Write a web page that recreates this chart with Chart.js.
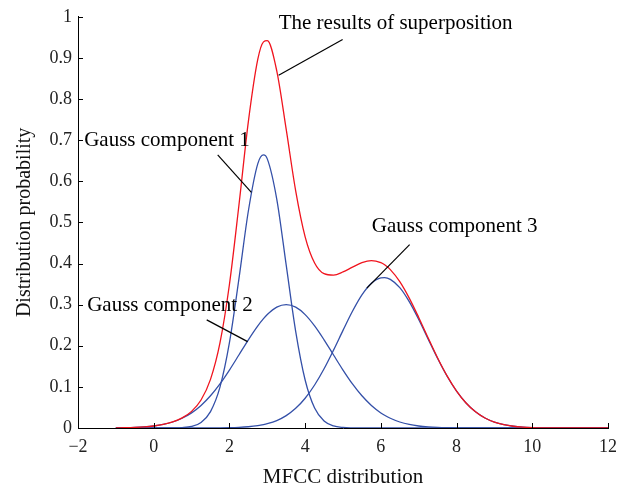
<!DOCTYPE html>
<html>
<head>
<meta charset="utf-8">
<script src="https://cdn.jsdelivr.net/npm/chart.js@4"></script>
<style>
  html, body { margin: 0; padding: 0; background: #fff; }
  #wrap { width: 634px; height: 491px; }
</style>
</head>
<body>
<div id="wrap"><canvas id="chart" width="634" height="491"></canvas></div>
<script>
// MFCC axis sample positions
const xs = [-1, -0.75, -0.5, -0.25, 0, 0.25, 0.5, 0.75, 1, 1.25, 1.5, 1.75, 2, 2.25, 2.5, 2.75, 2.9,
  3, 3.25, 3.5, 3.75, 4, 4.25, 4.5, 4.75, 5, 5.25, 5.5, 5.75, 6, 6.1, 6.25, 6.5, 6.75,
  7, 7.25, 7.5, 7.75, 8, 8.25, 8.5, 8.75, 9, 9.25, 9.5, 9.75, 10, 10.25, 10.5, 10.75,
  11, 11.25, 11.5, 11.75, 12];

// superposition (red)
const superposition = [0.0003, 0.0007, 0.0014, 0.0027, 0.0049, 0.0086, 0.0148, 0.0246,
  0.0404, 0.0681, 0.1182, 0.2068, 0.3490, 0.5410, 0.7451, 0.8969, 0.9390,
  0.9420, 0.8687, 0.7261, 0.5768, 0.4650, 0.4013, 0.3753, 0.3718, 0.3795, 0.3912, 0.4020, 0.4069,
  0.4020, 0.3969, 0.3852, 0.3559, 0.3159, 0.2688, 0.2189, 0.1703, 0.1266,
  0.0898, 0.0608, 0.0393, 0.0242, 0.0142, 0.0080, 0.0043, 0.0022,
  0.0011, 0.0005, 0.0002, 0.0001, 0, 0, 0, 0, 0];

// gauss components (blue)
const gauss1 = [0, 0, 0, 0, 0, 0, 0.0002, 0.0009,
  0.0037, 0.0133, 0.0398, 0.0993, 0.2074, 0.3620, 0.5277, 0.6429, 0.6640,
  0.6545, 0.5568, 0.3960, 0.2352, 0.1168, 0.0484, 0.0168, 0.0049, 0.0012, 0.0002, 0, 0,
  0, 0, 0, 0, 0, 0, 0, 0, 0,
  0, 0, 0, 0, 0, 0, 0, 0,
  0, 0, 0, 0, 0, 0, 0, 0, 0];

const gauss2 = [0.0003, 0.0007, 0.0014, 0.0027, 0.0049, 0.0086, 0.0146, 0.0237,
  0.0367, 0.0548, 0.0783, 0.1072, 0.1409, 0.1775, 0.2144, 0.2483, 0.2658,
  0.2758, 0.2938, 0.3000, 0.2938, 0.2758, 0.2483, 0.2144, 0.1775, 0.1409, 0.1072, 0.0783, 0.0548,
  0.0367, 0.0310, 0.0237, 0.0146, 0.0086, 0.0049, 0.0027, 0.0014, 0.0007,
  0.0003, 0.0001, 0, 0, 0, 0, 0, 0,
  0, 0, 0, 0, 0, 0, 0, 0, 0];

const gauss3 = [0, 0, 0, 0, 0, 0, 0, 0,
  0, 0, 0.0001, 0.0003, 0.0007, 0.0015, 0.0030, 0.0057, 0.0082,
  0.0104, 0.0181, 0.0301, 0.0478, 0.0724, 0.1046, 0.1441, 0.1894, 0.2374, 0.2838, 0.3237, 0.3521,
  0.3653, 0.3659, 0.3615, 0.3413, 0.3073, 0.2639, 0.2162, 0.1689, 0.1259,
  0.0895, 0.0607, 0.0393, 0.0242, 0.0142, 0.0080, 0.0043, 0.0022,
  0.0011, 0.0005, 0.0002, 0.0001, 0, 0, 0, 0, 0];

const xTicks = [-2, 0, 2, 4, 6, 8, 10, 12];

// callout labels in data coordinates
const callouts = [
  { text: 'The results of superposition', tx: 6.39, ty: 0.983, from: [4.99, 0.945], to: [3.30, 0.858] },
  { text: 'Gauss component 1', tx: 0.35, ty: 0.698, from: [1.69, 0.664], to: [2.58, 0.573] },
  { text: 'Gauss component 2', tx: 0.43, ty: 0.299, from: [1.40, 0.263], to: [2.48, 0.210] },
  { text: 'Gauss component 3', tx: 7.95, ty: 0.489, from: [6.76, 0.446], to: [5.63, 0.340] }
];

const RED = '#f0141e';
const BLUE = '#3450a8';
const SERIF = '"Liberation Serif", "DejaVu Serif", serif';

const toPoints = (ys) => xs.map((x, i) => ({ x: x, y: ys[i] }));

const line = (label, ys, color) => ({
  label: label,
  data: toPoints(ys),
  borderColor: color,
  borderWidth: 1.3,
  pointRadius: 0,
  fill: false,
  cubicInterpolationMode: 'monotone'
});

// inward tick marks, drawn from the scale's own ticks
const inwardTicks = {
  id: 'inwardTicks',
  afterDraw(chart) {
    const { ctx, chartArea, scales } = chart;
    ctx.save();
    ctx.strokeStyle = '#000';
    ctx.lineWidth = 1;
    ctx.beginPath();
    scales.x.ticks.forEach((t) => {
      const px = Math.round(scales.x.getPixelForValue(t.value)) + 0.5;
      ctx.moveTo(px, chartArea.bottom);
      ctx.lineTo(px, chartArea.bottom - 5);
    });
    scales.y.ticks.forEach((t) => {
      const py = Math.round(scales.y.getPixelForValue(t.value)) + 0.5;
      ctx.moveTo(chartArea.left, py);
      ctx.lineTo(chartArea.left + 5, py);
    });
    ctx.stroke();
    ctx.restore();
  }
};

// text labels with leader lines
const calloutPlugin = {
  id: 'callouts',
  afterDatasetsDraw(chart) {
    const { ctx, scales } = chart;
    ctx.save();
    ctx.strokeStyle = '#000';
    ctx.lineWidth = 1.2;
    ctx.fillStyle = '#000';
    ctx.font = '21px ' + SERIF;
    ctx.textAlign = 'center';
    ctx.textBaseline = 'middle';
    callouts.forEach((c) => {
      ctx.beginPath();
      ctx.moveTo(scales.x.getPixelForValue(c.from[0]), scales.y.getPixelForValue(c.from[1]));
      ctx.lineTo(scales.x.getPixelForValue(c.to[0]), scales.y.getPixelForValue(c.to[1]));
      ctx.stroke();
      ctx.fillText(c.text, scales.x.getPixelForValue(c.tx), scales.y.getPixelForValue(c.ty));
    });
    ctx.restore();
  }
};

new Chart(document.getElementById('chart'), {
  type: 'line',
  data: {
    datasets: [
      line('The results of superposition', superposition, RED),
      line('Gauss component 1', gauss1, BLUE),
      line('Gauss component 2', gauss2, BLUE),
      line('Gauss component 3', gauss3, BLUE)
    ]
  },
  options: {
    responsive: false,
    animation: false,
    layout: { padding: { left: 0, right: 26, top: 11, bottom: 0 } },
    plugins: {
      legend: { display: false },
      tooltip: { enabled: false }
    },
    scales: {
      x: {
        type: 'linear',
        min: -2,
        max: 12,
        afterBuildTicks: (scale) => { scale.ticks = xTicks.map((v) => ({ value: v })); },
        afterFit: (scale) => { scale.height = 63; },
        grid: { display: false, drawTicks: false },
        border: { display: true, color: '#000', width: 1 },
        ticks: {
          color: '#222',
          padding: 8,
          maxRotation: 0,
          font: { family: SERIF, size: 18 },
          callback: (v) => String(v).replace('-', '\u2212')
        },
        title: {
          display: true,
          text: 'MFCC distribution',
          color: '#111',
          padding: 1,
          font: { family: SERIF, size: 21 }
        }
      },
      y: {
        type: 'linear',
        min: 0,
        max: 1,
        afterFit: (scale) => { scale.width = 78; },
        grid: { display: false, drawTicks: false },
        border: { display: true, color: '#000', width: 1 },
        ticks: {
          stepSize: 0.1,
          color: '#222',
          padding: 6,
          font: { family: SERIF, size: 18 },
          callback: (v) => String(+v.toFixed(1))
        },
        title: {
          display: true,
          text: 'Distribution probability',
          color: '#111',
          padding: 12.5,
          font: { family: SERIF, size: 20 }
        }
      }
    }
  },
  plugins: [inwardTicks, calloutPlugin]
});
</script>
</body>
</html>
